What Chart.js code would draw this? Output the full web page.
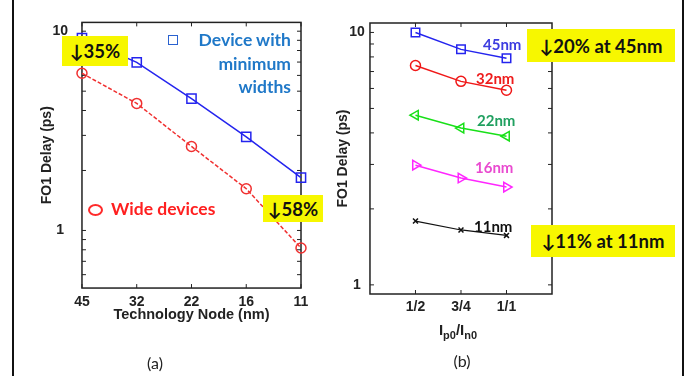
<!DOCTYPE html>
<html>
<head>
<meta charset="utf-8">
<script src="https://cdn.jsdelivr.net/npm/chart.js@4.4.1/dist/chart.umd.min.js"></script>
<style>
  body { margin: 0; width: 693px; height: 376px; position: relative; background: #fff; overflow: hidden; }
  .wrap { position: absolute; top: 0; height: 376px; }
  .edge { position: absolute; top: 0; width: 2px; height: 376px; background: #111; }
  .note { position: absolute; font-family: Lato, 'Open Sans', sans-serif; font-weight: bold; white-space: nowrap; }
  .tag { position: absolute; background: #f7f700; display: flex; align-items: center; justify-content: center;
         font-family: Lato, 'Open Sans', sans-serif; font-weight: bold; font-size: 18.5px; color: #111; white-space: nowrap; }
  .cap { position: absolute; font-family: Lato, 'Open Sans', sans-serif; font-size: 16px; color: #222; transform: translate(-50%, -50%); }
</style>
</head>
<body>
<div class="edge" style="left:12px"></div>
<div class="edge" style="left:682px"></div>

<div class="wrap" style="left:0; width:330px"><canvas id="chartA"></canvas></div>
<div class="wrap" style="left:330px; width:363px"><canvas id="chartB"></canvas></div>

<!-- panel (a) legend and notes -->
<div style="position:absolute; left:168px; top:35px; width:10px; height:10px; border:1.5px solid #2a62d0; box-sizing:border-box"></div>
<div class="note" style="right:402px; top:28px; font-size:17.5px; line-height:23.5px; color:#1f78c8; text-align:right">Device with<br>minimum<br>widths</div>
<div style="position:absolute; left:88px; top:204px; width:15px; height:12px; border:2px solid #ff2a2a; border-radius:50%; box-sizing:border-box"></div>
<div class="note" style="left:111px; top:199px; font-size:17.5px; line-height:20px; color:#ff2020">Wide devices</div>
<div class="tag" style="left:62px; top:36px; width:66px; height:30px">↓35%</div>
<div class="tag" style="left:263px; top:195px; width:60px; height:27px">↓58%</div>
<div class="cap" style="left:155px; top:362px">(a)</div>

<!-- panel (b) series names and notes -->
<div class="note" style="left:483px; top:35px; font-size:15px; line-height:18px; color:#3c3ce0">45nm</div>
<div class="note" style="left:476px; top:69px; font-size:15px; line-height:18px; color:#ee1c1c">32nm</div>
<div class="note" style="left:477px; top:111px; font-size:15px; line-height:18px; color:#21a060">22nm</div>
<div class="note" style="left:475px; top:158px; font-size:15px; line-height:18px; color:#e94bd0">16nm</div>
<div class="note" style="left:474px; top:217px; font-size:15px; line-height:18px; color:#111">11nm</div>
<div class="tag" style="left:527px; top:29px; width:148px; height:33px">↓20% at 45nm</div>
<div class="tag" style="left:531px; top:225px; width:144px; height:32px">↓11% at 11nm</div>
<div class="cap" style="left:458px; top:331px; font-family:'Liberation Sans', Arial, sans-serif; font-weight:bold; font-size:15px">I<sub style="font-size:11px">p0</sub>/I<sub style="font-size:11px">n0</sub></div>
<div class="cap" style="left:462px; top:360px">(b)</div>

<script>
// (a) delay vs technology node
const nodeLabels = ['45', '32', '22', '16', '11'];
const minWidthDelay = [9.24, 6.97, 4.59, 2.95, 1.84];
const wideDelay = [6.15, 4.34, 2.64, 1.62, 0.816];

// (b) delay vs Ip0/In0 ratio, one series per node
const ratioLabels = ['1/2', '3/4', '1/1'];
const delay45 = [10.0, 8.57, 7.9];
const delay32 = [7.4, 6.4, 5.9];
const delay22 = [4.7, 4.18, 3.88];
const delay16 = [2.98, 2.65, 2.44];
const delay11 = [1.79, 1.65, 1.57];

const yTicks = [1, 10];

const axisFont = 'Liberation Sans';
const ink = '#222';

// box round the plot area plus small inward tick marks
const framePlugin = {
    id: 'frame',
    beforeDatasetsDraw(chart, args, opts) {
        const {ctx, chartArea: a, scales} = chart;
        ctx.save();
        ctx.strokeStyle = ink;
        ctx.lineWidth = 1.5;
        ctx.strokeRect(a.left, a.top, a.right - a.left, a.bottom - a.top);
        ctx.lineWidth = 1;
        ctx.beginPath();
        (opts.yMarks || []).forEach(v => {
            const y = scales.y.getPixelForValue(v);
            ctx.moveTo(a.left, y); ctx.lineTo(a.left + 4, y);
            ctx.moveTo(a.right, y); ctx.lineTo(a.right - 4, y);
        });
        (opts.xMarks || []).forEach(v => {
            const x = scales.x.getPixelForValue(v);
            ctx.moveTo(x, a.top); ctx.lineTo(x, a.top + 4);
            ctx.moveTo(x, a.bottom); ctx.lineTo(x, a.bottom - 4);
        });
        ctx.stroke();
        ctx.restore();
    }
};

// note: chart.js counts ticks.padding twice in the axis size, the negative
// title padding pulls the rotated title back next to the tick labels
function yAxis(min, max, pad, titleGap) {
    return {
        type: 'logarithmic',
        min: min,
        max: max,
        afterBuildTicks: s => { s.ticks = yTicks.map(v => ({value: v})); },
        grid: { display: false, drawTicks: false },
        border: { display: false },
        ticks: {
            font: { family: axisFont, weight: 'bold', size: 14 },
            color: ink,
            padding: pad,
            crossAlign: 'center',
            callback: v => String(v)
        },
        title: {
            display: true,
            text: 'FO1 Delay (ps)',
            font: { family: axisFont, weight: 'bold', size: 14, lineHeight: 1.2 },
            color: ink,
            padding: { top: 0, bottom: titleGap }
        }
    };
}

function series(label, values, color, style, extra) {
    return Object.assign({
        label: label,
        data: values,
        borderColor: color,
        borderWidth: 1.5,
        pointStyle: style,
        pointRadius: 5,
        pointBorderColor: color,
        pointBorderWidth: 1.5,
        pointBackgroundColor: 'rgba(0,0,0,0)',
        tension: 0,
        clip: false
    }, extra || {});
}

new Chart(document.getElementById('chartA'), {
    type: 'line',
    data: {
        labels: nodeLabels,
        datasets: [
            series('Device with minimum widths', minWidthDelay, '#2424ee', 'rect', { pointRadius: 6.5 }),
            series('Wide devices', wideDelay, '#f03030', 'circle', { borderDash: [4, 2] })
        ]
    },
    options: {
        responsive: true,
        maintainAspectRatio: false,
        animation: false,
        layout: { padding: { left: 38.6, right: 29, top: 16, bottom: 53 } },
        plugins: {
            legend: { display: false },
            tooltip: { enabled: false },
            frame: {
                yMarks: [0.6, 0.7, 0.8, 0.9, 1, 2, 3, 4, 5, 6, 7, 8, 9, 10],
                xMarks: nodeLabels.map((_, i) => i)
            }
        },
        scales: {
            x: {
                type: 'category',
                offset: false,
                grid: { display: false, drawTicks: false },
                border: { display: false },
                ticks: {
                    font: { family: axisFont, weight: 'bold', size: 14, lineHeight: 1 },
                    color: ink,
                    padding: 7,
                    maxRotation: 0,
                    autoSkip: false
                },
                title: {
                    display: true,
                    text: 'Technology Node (nm)',
                    font: { family: axisFont, weight: 'bold', size: 14.5, lineHeight: 1.1 },
                    color: ink,
                    padding: { top: -9, bottom: 0 }
                }
            },
            y: yAxis(0.514, 11.07, 14, -17)
        }
    },
    plugins: [framePlugin]
});

const toPoints = vals => vals.map((v, i) => ({x: i, y: v}));

new Chart(document.getElementById('chartB'), {
    type: 'line',
    data: {
        datasets: [
            series('45nm', toPoints(delay45), '#2424ee', 'rect', { pointRadius: 6 }),
            series('32nm', toPoints(delay32), '#f01818', 'circle'),
            series('22nm', toPoints(delay22), '#18e018', 'triangle', { pointRotation: -90, pointRadius: 5.5 }),
            series('16nm', toPoints(delay16), '#ff26ff', 'triangle', { pointRotation: 90, pointRadius: 5.5 }),
            series('11nm', toPoints(delay11), '#111111', 'crossRot', { pointRadius: 3.5, borderWidth: 1.2 })
        ]
    },
    options: {
        responsive: true,
        maintainAspectRatio: false,
        animation: false,
        layout: { padding: { left: 4.6, right: 141, top: 23, bottom: 56 } },
        plugins: {
            legend: { display: false },
            tooltip: { enabled: false },
            frame: {
                yMarks: [1, 2, 3, 4, 5, 6, 7, 8, 9, 10],
                xMarks: ratioLabels.map((_, i) => i)
            }
        },
        scales: {
            x: {
                type: 'linear',
                min: -1,
                max: ratioLabels.length,
                afterBuildTicks: s => { s.ticks = ratioLabels.map((_, i) => ({value: i})); },
                grid: { display: false, drawTicks: false },
                border: { display: false },
                ticks: {
                    font: { family: axisFont, weight: 'bold', size: 14, lineHeight: 1.2 },
                    color: ink,
                    padding: 4.6,
                    maxRotation: 0,
                    autoSkip: false,
                    callback: v => ratioLabels[v] ?? ''
                }
            },
            y: yAxis(0.92, 10.9, 5.2, -7.4)
        }
    },
    plugins: [framePlugin]
});
</script>
</body>
</html>
